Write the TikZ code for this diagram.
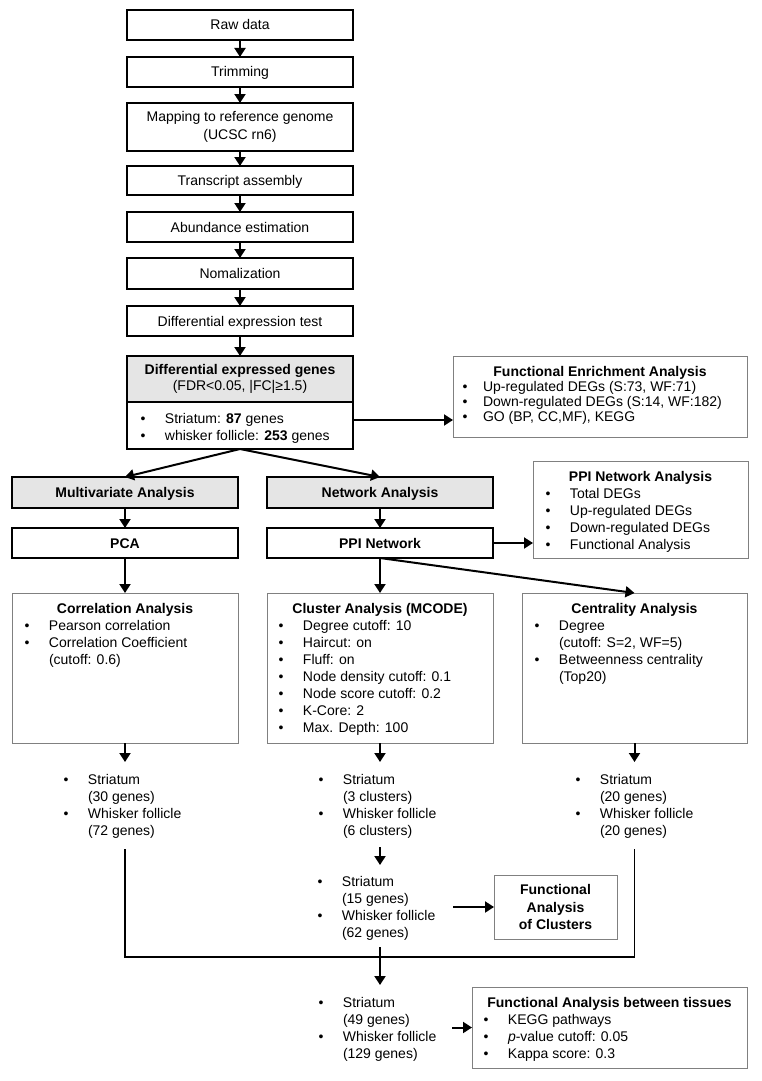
\documentclass[tikz,border=0pt]{standalone}
\usepackage{fontspec}
\setmainfont{Liberation Sans}
\usetikzlibrary{arrows.meta}
\newcommand{\itm}[1]{\makebox[24.5pt][l]{\textbullet}#1}
\newcommand{\cnt}[1]{\hspace*{24.5pt}#1}
\newcommand{\itmf}[1]{\makebox[20.5pt][l]{\textbullet}#1}
\begin{document}
\begin{tikzpicture}[x=1pt,y=-1pt,
  every node/.style={inner sep=0pt, outer sep=0pt, font=\fontsize{14}{17}\selectfont},
  bbox/.style={draw=black, line width=1.6pt, minimum width=226pt, anchor=north west, align=center},
  gbox/.style={draw=black!50, line width=1pt, anchor=north west, fill=white},
  grayfill/.style={fill=black!10},
  oneline/.style={text height=10pt, text depth=0pt},
  arr/.style={line width=2pt, -{Triangle[length=9pt,width=11pt]}},
  brk/.style={line width=1.2pt},
  hdr/.style={font=\fontsize{14}{17}\selectfont\bfseries, anchor=base},
  lst/.style={align=left, anchor=north west},
]
\fill[white] (0,0) rectangle (762,1081);
\useasboundingbox (0,0) rectangle (762,1081);

% top chain
\node[bbox, oneline, minimum height=30pt] (raw) at (127,10) {Raw data};
\node[bbox, oneline, minimum height=30pt] (trim) at (127,57) {Trimming};
\node[bbox, minimum height=48pt, font=\fontsize{14}{18}\selectfont] (map) at (127,103) {Mapping to reference genome\\(UCSC rn6)};
\node[bbox, oneline, minimum height=29pt] (trans) at (127,166) {Transcript assembly};
\node[bbox, oneline, minimum height=30pt] (abund) at (127,212) {Abundance estimation};
\node[bbox, oneline, minimum height=31pt] (norm) at (127,258) {Nomalization};
\node[bbox, oneline, minimum height=30pt] (dtest) at (127,306) {Differential expression test};
\node[bbox, grayfill, minimum height=46pt, font=\fontsize{14}{16}\selectfont] (deghead) at (127,356) {\textbf{Differential expressed genes}\\(FDR<0.05, |FC|≥1.5)};
\node[bbox, minimum height=47pt] (degbody) at (127,402) {};
\node[lst] (deglist) at (140.5,411.1) {\strut\itm{Striatum: \textbf{87} genes}\\\itm{whisker follicle: \textbf{253} genes}};

\foreach \a/\b in {raw/trim, trim/map, map/trans, trans/abund, abund/norm, norm/dtest, dtest/deghead}
  \draw[arr] (\a.south) -- (\b.north);

% functional enrichment
\node[gbox, minimum width=294pt, minimum height=81pt] (fea) at (453,356) {};
\node[hdr] (feah) at (600,376) {Functional Enrichment Analysis};
\node[lst, font=\fontsize{14}{15}\selectfont] (feal) at (462.5,380.5) {\strut\itmf{Up-regulated DEGs (S:73, WF:71)}\\\itmf{Down-regulated DEGs (S:14, WF:182)}\\\itmf{GO (BP, CC,MF), KEGG}};
\coordinate (feain) at (453,420);
\draw[arr] (degbody.east |- feain) -- (feain);

% analysis branches
\node[bbox, grayfill, oneline, minimum height=31pt, font=\fontsize{14}{17}\selectfont\bfseries] (multi) at (12,477) {Multivariate Analysis};
\node[bbox, grayfill, oneline, minimum height=31pt, font=\fontsize{14}{17}\selectfont\bfseries] (net) at (267,477) {Network Analysis};
\node[bbox, oneline, minimum height=30pt, font=\fontsize{14}{17}\selectfont\bfseries] (pca) at (12,528) {PCA};
\node[bbox, oneline, minimum height=30pt, font=\fontsize{14}{17}\selectfont\bfseries] (ppi) at (267,528) {PPI Network};
\draw[arr] (degbody.south) -- (multi.north);
\draw[arr] (degbody.south) -- (net.north);
\draw[arr] (multi.south) -- (pca.north);
\draw[arr] (net.south) -- (ppi.north);

% PPI network analysis
\node[gbox, minimum width=215pt, minimum height=97pt] (ppina) at (533,461) {};
\node[hdr] (ppinah) at (640.5,481) {PPI Network Analysis};
\node[lst] (ppinal) at (545.5,486.1) {\strut\itm{Total DEGs}\\\itm{Up-regulated DEGs}\\\itm{Down-regulated DEGs}\\\itm{Functional Analysis}};
\draw[arr] (ppi.east) -- (ppi.east -| ppina.west);

% three analysis boxes
\node[gbox, minimum width=226pt, minimum height=150pt] (corr) at (12,593) {};
\node[hdr] (corrh) at (125,613) {Correlation Analysis};
\node[lst] (corrl) at (24.5,618.1) {\strut\itm{Pearson correlation}\\\itm{Correlation Coefficient}\\\cnt{(cutoff: 0.6)}};

\node[gbox, minimum width=226pt, minimum height=150pt] (clus) at (267,593) {};
\node[hdr] (clush) at (380,613) {Cluster Analysis (MCODE)};
\node[lst] (clusl) at (278.5,618.1) {\strut\itm{Degree cutoff: 10}\\\itm{Haircut: on}\\\itm{Fluff: on}\\\itm{Node density cutoff: 0.1}\\\itm{Node score cutoff: 0.2}\\\itm{K-Core: 2}\\\itm{Max. Depth: 100}};

\node[gbox, minimum width=225pt, minimum height=150pt] (cent) at (522,593) {};
\node[hdr] (centh) at (634.5,613) {Centrality Analysis};
\node[lst] (centl) at (534.5,618.1) {\strut\itm{Degree}\\\cnt{(cutoff: S=2, WF=5)}\\\itm{Betweenness centrality}\\\cnt{(Top20)}};

\draw[arr] (pca.south) -- (corr.north);
\draw[arr] (ppi.south) -- (clus.north);
\draw[arr] (ppi.south) -- (cent.north);

% result lists
\coordinate (t1) at (125,762);
\coordinate (t2) at (380,762);
\coordinate (t3) at (634.5,762);
\draw[arr] (corr.south) -- (t1);
\draw[arr] (clus.south) -- (t2);
\draw[arr] (cent.south) -- (t3);
\node[lst] (l1) at (63.5,772.1) {\strut\itm{Striatum}\\\cnt{(30 genes)}\\\itm{Whisker follicle}\\\cnt{(72 genes)}};
\node[lst] (l2) at (318.5,772.1) {\strut\itm{Striatum}\\\cnt{(3 clusters)}\\\itm{Whisker follicle}\\\cnt{(6 clusters)}};
\node[lst] (l3) at (575.5,772.1) {\strut\itm{Striatum}\\\cnt{(20 genes)}\\\itm{Whisker follicle}\\\cnt{(20 genes)}};

\coordinate (m1) at (380,847);
\coordinate (m2) at (380,865);
\draw[arr] (m1) -- (m2);
\node[lst] (l4) at (317.5,874.1) {\strut\itm{Striatum}\\\cnt{(15 genes)}\\\itm{Whisker follicle}\\\cnt{(62 genes)}};

\node[gbox, minimum width=123pt, minimum height=64pt, align=center, font=\fontsize{14}{17.5}\selectfont\bfseries] (fac) at (494,875) {Functional\\Analysis\\of Clusters};
\coordinate (facin) at (453,907);
\draw[arr] (facin) -- (fac.west);

% bracket
\coordinate (b1) at (125,849);
\coordinate (b2) at (125,957);
\coordinate (b3) at (634.5,957);
\coordinate (b4) at (634.5,849);
\draw[brk] (b1) -- (b2) -- (b3) -- (b4);
\coordinate (m3) at (380,947);
\coordinate (m4) at (380,985);
\draw[arr] (m3) -- (m4);

\node[lst] (l5) at (318.5,995.1) {\strut\itm{Striatum}\\\cnt{(49 genes)}\\\itm{Whisker follicle}\\\cnt{(129 genes)}};

\node[gbox, minimum width=275pt, minimum height=81pt] (fabt) at (472,987) {};
\node[hdr] (fabth) at (609.5,1007) {Functional Analysis between tissues};
\node[lst] (fabtl) at (483.5,1012.1) {\strut\itm{KEGG pathways}\\\itm{\textit{p}-value cutoff: 0.05}\\\itm{Kappa score: 0.3}};
\coordinate (fabtin) at (452,1027.5);
\draw[arr] (fabtin) -- (fabt.west);
\end{tikzpicture}
\end{document}
